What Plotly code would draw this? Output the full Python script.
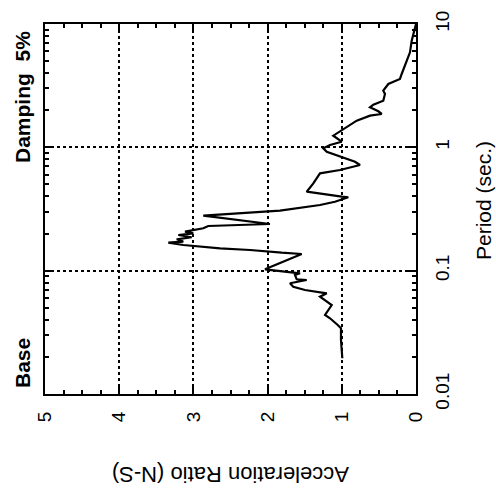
import plotly.graph_objects as go

# Response spectrum data (Period in sec, Acceleration ratio)
period = [0.01948, 0.02741, 0.03409, 0.03626, 0.04110, 0.04370, 0.05266, 0.05602, 0.06150, 0.06553,
          0.06754, 0.06967, 0.07413, 0.07900, 0.08400, 0.08511, 0.09223, 0.09520, 0.1026, 0.1365,
          0.1398, 0.1471, 0.1518, 0.1614, 0.1685, 0.1717, 0.1796, 0.1865, 0.1946, 0.2009,
          0.2070, 0.2206, 0.2303, 0.2390, 0.2791, 0.2918, 0.3063, 0.3406, 0.3623, 0.3934,
          0.3978, 0.4368, 0.5109, 0.6159, 0.6549, 0.7190, 0.7646, 0.9217, 0.9820, 1.0447,
          1.1110, 1.2427, 1.3243, 1.5462, 1.6444, 1.8055, 1.8638, 1.9601, 2.1122, 2.2170,
          2.3888, 2.7070, 2.8790, 3.2636, 3.5828, 3.9321, 5.0418, 5.8966, 7.3205, 9.1113,
          10.0]
accel = [0.993, 1.011, 1.011, 1.055, 1.159, 1.226, 1.136, 1.203, 1.294, 1.203,
         1.361, 1.496, 1.654, 1.698, 1.473, 1.608, 1.631, 1.563, 2.035, 1.540,
         1.810, 2.237, 2.641, 3.136, 3.338, 3.136, 3.225, 3.023, 3.203, 3.001,
         3.113, 2.867, 2.799, 1.968, 2.867, 2.327, 1.833, 1.294, 1.092, 0.912,
         1.001, 1.473, 1.384, 1.294, 1.024, 0.755, 0.822, 1.203, 1.249, 1.159,
         1.001, 1.115, 1.047, 0.867, 0.799, 0.620, 0.462, 0.508, 0.620, 0.575,
         0.441, 0.418, 0.441, 0.373, 0.216, 0.193, 0.125, 0.081, 0.058, 0.013,
         0.0]

accel_ticks = [0, 1, 2, 3, 4, 5]
period_ticks = [0.01, 0.1, 1, 10]
period_labels = ["0.01", "0.1", "1", "10"]

FONT = "Liberation Sans, Arial, sans-serif"

fig = go.Figure()
fig.add_trace(go.Scatter(x=accel, y=period, mode="lines",
                         line=dict(color="black", width=2.2), showlegend=False))

minor_period = [m * 10 ** e for e in (-2, -1, 0) for m in range(2, 10)]

L, T, W, H = 45, 24, 371, 370


def px(xp):
    return (xp - L) / W


def py(yp):
    return (T + H - yp) / H


fig.update_layout(
    width=496, height=498,
    margin=dict(l=45, r=80, t=24, b=104),
    paper_bgcolor="white", plot_bgcolor="white",
    font=dict(family=FONT, color="black"),
    xaxis=dict(
        range=[5, 0], tickvals=accel_ticks, ticktext=[str(v) for v in accel_ticks],
        tickangle=-90, tickfont=dict(size=19, family=FONT),
        ticks="inside", ticklen=8, tickwidth=1.5, tickcolor="black",
        showline=True, linecolor="black", linewidth=2, mirror="allticks",
        showgrid=True, gridcolor="black", griddash="dot", gridwidth=1.5,
        zeroline=False,
        minor=dict(dtick=0.25, ticks="inside", ticklen=4, tickcolor="black", showgrid=False),
        ticklabelstandoff=8,
    ),
    yaxis=dict(
        type="log", range=[-2, 1], side="right",
        tickvals=period_ticks, ticktext=period_labels,
        tickangle=-90, tickfont=dict(size=19, family=FONT),
        ticks="inside", ticklen=8, tickwidth=1.5, tickcolor="black",
        showline=True, linecolor="black", linewidth=2, mirror="allticks",
        showgrid=True, gridcolor="black", griddash="dot", gridwidth=1.5,
        zeroline=False,
        minor=dict(tickvals=minor_period, ticks="inside", ticklen=4,
                   tickcolor="black", showgrid=False),
        ticklabelstandoff=8,
    ),
    annotations=[
        dict(text="Acceleration Ratio (N-S)", textangle=180, xref="paper", yref="paper",
             x=px(231), y=py(475), xanchor="center", yanchor="middle", showarrow=False,
             font=dict(size=22, family=FONT)),
        dict(text="Period (sec.)", textangle=-90, xref="paper", yref="paper",
             x=px(483), y=py(201), xanchor="center", yanchor="middle", showarrow=False,
             font=dict(size=21, family=FONT)),
        dict(text="<b>Base</b>", textangle=-90, xref="paper", yref="paper",
             x=px(22), y=py(363), xanchor="center", yanchor="middle", showarrow=False,
             font=dict(size=21, family=FONT)),
        dict(text="<b>Damping  5%</b>", textangle=-90, xref="paper", yref="paper",
             x=px(22), y=py(97), xanchor="center", yanchor="middle", showarrow=False,
             font=dict(size=21, family=FONT)),
    ],
)

fig.write_html("out.html")
